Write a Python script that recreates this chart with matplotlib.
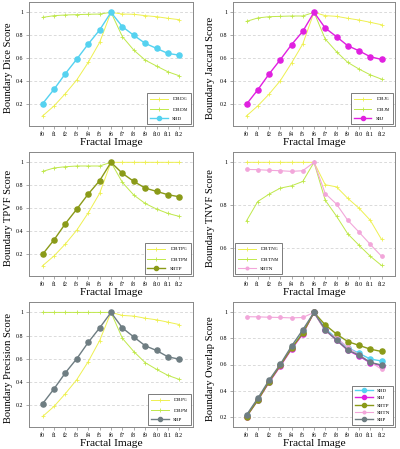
import matplotlib
matplotlib.use('Agg')
from matplotlib import pyplot as plt
from matplotlib.ticker import FuncFormatter

plt.rcParams['font.family'] = ['Liberation Serif', 'DejaVu Serif']
plt.rcParams['mathtext.fontset'] = 'custom'
plt.rcParams['mathtext.rm'] = 'Liberation Serif'

images = ['f0', 'f1', 'f2', 'f3', 'f4', 'f5', 'f6', 'f7', 'f8', 'f9', 'f10', 'f11', 'f12']

# boundary scores
sbd = [0.205, 0.33, 0.467, 0.593, 0.724, 0.846, 1.0, 0.875, 0.80, 0.73, 0.686, 0.642, 0.627]
dbd_g = [0.098, 0.185, 0.293, 0.412, 0.564, 0.738, 1.0, 0.985, 0.983, 0.971, 0.962, 0.948, 0.936]
dbd_m = [0.956, 0.971, 0.977, 0.98, 0.983, 0.985, 1.0, 0.788, 0.671, 0.584, 0.532, 0.482, 0.447]

sbj = [0.2, 0.325, 0.462, 0.587, 0.718, 0.834, 1.0, 0.863, 0.788, 0.709, 0.665, 0.613, 0.59]
dbj_g = [0.098, 0.185, 0.287, 0.404, 0.558, 0.724, 1.0, 0.971, 0.965, 0.948, 0.933, 0.913, 0.892]
dbj_m = [0.921, 0.951, 0.962, 0.965, 0.968, 0.968, 1.0, 0.767, 0.657, 0.564, 0.506, 0.456, 0.418]

sbtp = [0.2, 0.325, 0.467, 0.593, 0.724, 0.84, 1.0, 0.904, 0.834, 0.776, 0.747, 0.718, 0.70]
dbtp_g = [0.1, 0.185, 0.29, 0.41, 0.56, 0.73, 1.0, 1.0, 1.0, 1.0, 1.0, 1.0, 1.0]
dbtp_m = [0.921, 0.951, 0.962, 0.968, 0.968, 0.968, 1.0, 0.825, 0.715, 0.642, 0.593, 0.555, 0.529]

sbtn = [0.967, 0.966, 0.963, 0.961, 0.958, 0.961, 1.0, 0.855, 0.806, 0.731, 0.676, 0.619, 0.564]
dbtn_g = [1.0, 1.0, 1.0, 1.0, 1.0, 1.0, 1.0, 0.896, 0.886, 0.833, 0.787, 0.731, 0.642]
dbtn_m = [0.728, 0.818, 0.852, 0.88, 0.891, 0.911, 1.0, 0.824, 0.75, 0.668, 0.615, 0.564, 0.521]

sbp = [0.212, 0.34, 0.479, 0.601, 0.741, 0.866, 1.0, 0.866, 0.788, 0.712, 0.671, 0.616, 0.596]
dbp_g = [0.101, 0.188, 0.299, 0.42, 0.575, 0.756, 1.0, 0.974, 0.968, 0.95, 0.936, 0.916, 0.895]
dbp_m = [1.0, 1.0, 1.0, 1.0, 1.0, 1.0, 1.0, 0.776, 0.662, 0.566, 0.508, 0.456, 0.421]

c_g = '#eef050'
c_m = '#bfe84a'
c_sbd = '#55d2f0'
c_sbj = '#e020e0'
c_sbtp = '#8a9a18'
c_sbtn = '#f2a6da'
c_sbp = '#6e7d82'

x = list(range(len(images)))

fig = plt.figure(figsize=(4, 4.49), dpi=100)
W, H = 400.0, 449.0
cols = [(29, 193), (233, 395)]
rows = [(2, 126), (152, 276), (302, 427)]


def make_ax(r, c):
    l, rr = cols[c]
    t, b = rows[r]
    return fig.add_axes([l / W, 1 - b / H, (rr - l) / W, (b - t) / H])


def db_line(ax, y, color, label):
    ax.plot(x, y, color=color, lw=0.7, marker='+', ms=3, mew=0.6, label=label)


def sb_line(ax, y, color, label, ms=3.7, lw=1.0):
    ax.plot(x, y, color=color, lw=lw, marker='o', ms=ms, label=label)


def style(ax, ylabel, ylim, yticks, legloc, c):
    ax.set_xlim(-1.2, 13.2)
    ax.set_ylim(*ylim)
    ax.set_xticks(x)
    ax.set_xticklabels(images)
    ax.set_yticks(yticks)
    ax.yaxis.set_major_formatter(FuncFormatter(lambda v, p: '%g' % round(v, 2)))
    ax.tick_params(labelsize=4.3, length=2, width=0.5, color='#888888', pad=2)
    ax.grid(axis='y', ls=(0, (4, 3)), color='#cccccc', lw=0.5)
    for s in ax.spines.values():
        s.set_color('#888888')
        s.set_linewidth(0.7)
    ax.set_ylabel(ylabel, fontsize=7.6)
    ax.yaxis.set_label_coords(-0.1 if c == 0 else -0.11, 0.47)
    ax.set_xlabel('Fractal Image', fontsize=8.2, labelpad=1)
    leg = ax.legend(loc=legloc, fontsize=3.8, handlelength=3.4, fancybox=False,
                    edgecolor='#666666', framealpha=1, borderpad=0.5, labelspacing=0.5,
                    markerscale=0.8, borderaxespad=0.4)
    leg.get_frame().set_linewidth(0.6)


ax = make_ax(0, 0)
db_line(ax, dbd_g, c_g, r'DBD$_\mathrm{G}$')
db_line(ax, dbd_m, c_m, r'DBD$_\mathrm{M}$')
sb_line(ax, sbd, c_sbd, 'SBD')
style(ax, 'Boundary Dice Score', (0.01, 1.09), [0.2, 0.4, 0.6, 0.8, 1.0], 'lower right', 0)

ax = make_ax(0, 1)
db_line(ax, dbj_g, c_g, r'DBJ$_\mathrm{G}$')
db_line(ax, dbj_m, c_m, r'DBJ$_\mathrm{M}$')
sb_line(ax, sbj, c_sbj, 'SBJ')
style(ax, 'Boundary Jaccard Score', (0.01, 1.09), [0.2, 0.4, 0.6, 0.8, 1.0], 'lower right', 1)

ax = make_ax(1, 0)
db_line(ax, dbtp_g, c_g, r'DBTP$_\mathrm{G}$')
db_line(ax, dbtp_m, c_m, r'DBTP$_\mathrm{M}$')
sb_line(ax, sbtp, c_sbtp, 'SBTP')
style(ax, 'Boundary TPVF Score', (0.01, 1.09), [0.2, 0.4, 0.6, 0.8, 1.0], 'lower right', 0)

ax = make_ax(1, 1)
db_line(ax, dbtn_g, c_g, r'DBTN$_\mathrm{G}$')
db_line(ax, dbtn_m, c_m, r'DBTN$_\mathrm{M}$')
sb_line(ax, sbtn, c_sbtn, 'SBTN', ms=2.4, lw=0.8)
style(ax, 'Boundary TNVF Score', (0.472, 1.048), [0.6, 0.8, 1.0], 'lower left', 1)

ax = make_ax(2, 0)
db_line(ax, dbp_g, c_g, r'DBP$_\mathrm{G}$')
db_line(ax, dbp_m, c_m, r'DBP$_\mathrm{M}$')
sb_line(ax, sbp, c_sbp, 'SBP')
style(ax, 'Boundary Precision Score', (0.01, 1.09), [0.2, 0.4, 0.6, 0.8, 1.0], 'lower right', 0)

ax = make_ax(2, 1)
sb_line(ax, sbd, c_sbd, 'SBD')
sb_line(ax, sbj, c_sbj, 'SBJ')
sb_line(ax, sbtp, c_sbtp, 'SBTP')
sb_line(ax, sbtn, c_sbtn, 'SBTN', ms=2.4, lw=0.8)
sb_line(ax, sbp, c_sbp, 'SBP')
style(ax, 'Boundary Overlap Score', (0.12, 1.08), [0.2, 0.4, 0.6, 0.8, 1.0], 'lower right', 1)

fig.savefig('out.png', dpi=100)
